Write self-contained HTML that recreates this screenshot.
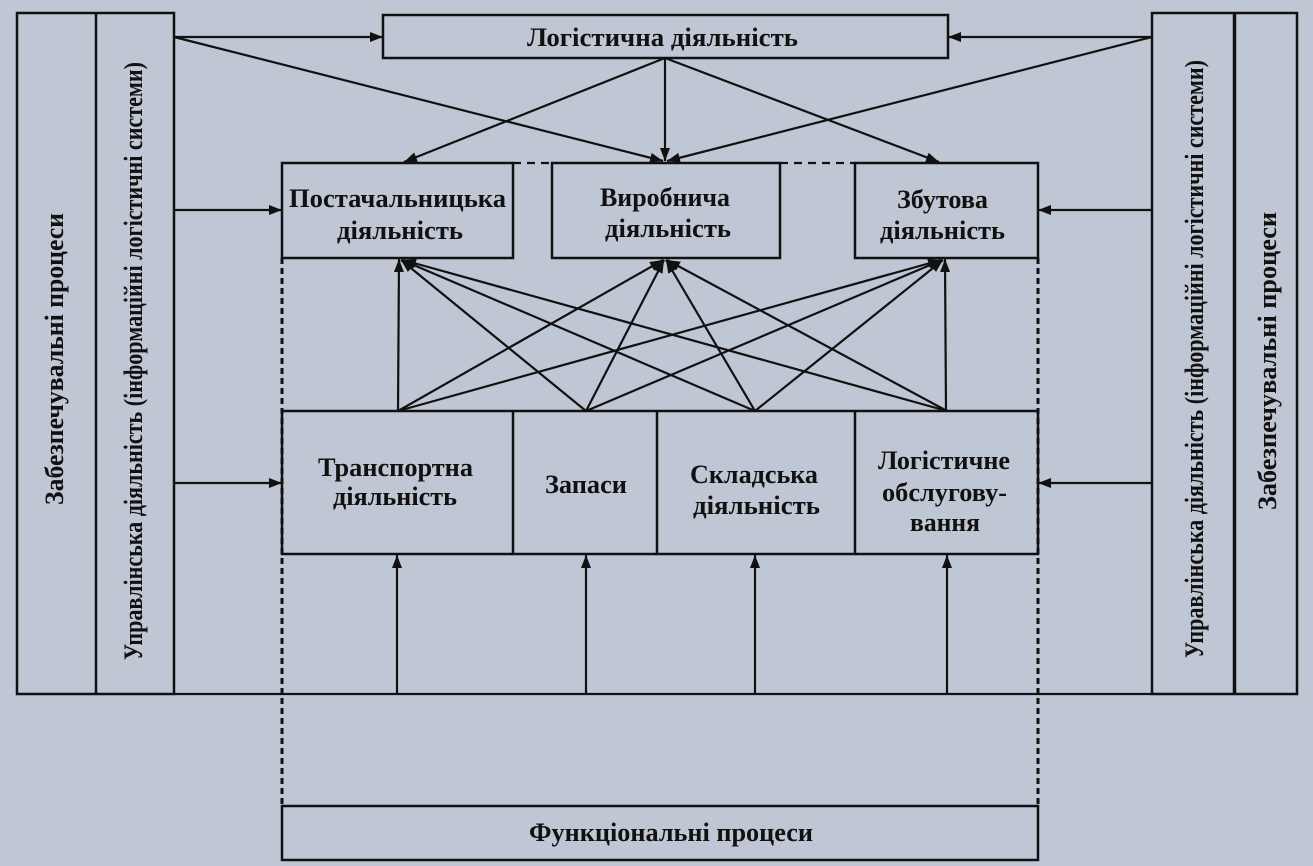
<!DOCTYPE html>
<html>
<head>
<meta charset="utf-8">
<style>
  html,body{margin:0;padding:0;background:#c0c7d4;}
  svg{display:block;}
  text{font-family:"Liberation Serif","Noto Serif CJK SC",serif;font-weight:bold;fill:#111;}
</style>
</head>
<body>
<svg width="1313" height="866" viewBox="0 0 1313 866" xmlns="http://www.w3.org/2000/svg">
  <defs>
    <marker id="ah" markerWidth="15" markerHeight="11" refX="13" refY="5" orient="auto" markerUnits="userSpaceOnUse">
      <path d="M0,0 L13,5 L0,10 z" fill="#111"/>
    </marker>
  </defs>
  <rect x="0" y="0" width="1313" height="866" fill="#c0c7d4"/>

  <g stroke="#111" fill="none" stroke-width="2.5">
    <rect x="17" y="13" width="157" height="681"/>
    <line x1="96" y1="13" x2="96" y2="694"/>
    <rect x="1152" y="13" width="145" height="681"/>
    <line x1="1234.5" y1="13" x2="1234.5" y2="694" stroke-width="3.5"/>
    <rect x="383" y="15" width="565" height="43"/>
    <rect x="282" y="163" width="231" height="95"/>
    <rect x="552" y="163" width="228" height="95"/>
    <rect x="855" y="163" width="183" height="95"/>
    <rect x="282" y="411" width="756" height="143"/>
    <line x1="513" y1="411" x2="513" y2="554"/>
    <line x1="657" y1="411" x2="657" y2="554"/>
    <line x1="855" y1="411" x2="855" y2="554"/>
    <rect x="282" y="806" width="756" height="54"/>
    <line x1="174" y1="694" x2="1152" y2="694" stroke-width="2.3"/>
  </g>

  <g stroke="#111" fill="none">
    <line x1="513" y1="163" x2="552" y2="163" stroke-width="2.2" stroke-dasharray="8,6"/>
    <line x1="780" y1="163" x2="855" y2="163" stroke-width="2.2" stroke-dasharray="8,6"/>
    <line x1="282" y1="258" x2="282" y2="806" stroke-width="3" stroke-dasharray="6,4"/>
    <line x1="1038" y1="258" x2="1038" y2="806" stroke-width="3" stroke-dasharray="6,4"/>
  </g>

  <g stroke="#111" fill="none" stroke-width="2.2" marker-end="url(#ah)">
    <line x1="174" y1="37" x2="383" y2="37"/>
    <line x1="1152" y1="37" x2="948" y2="37"/>
    <line x1="174" y1="37" x2="663" y2="161"/>
    <line x1="1152" y1="37" x2="667" y2="161"/>
    <line x1="665" y1="58" x2="665" y2="161"/>
    <line x1="665" y1="58" x2="404" y2="162"/>
    <line x1="665" y1="58" x2="939" y2="162"/>
    <line x1="174" y1="210" x2="282" y2="210"/>
    <line x1="1152" y1="210" x2="1038" y2="210"/>
    <line x1="174" y1="483" x2="282" y2="483"/>
    <line x1="1152" y1="483" x2="1038" y2="483"/>
    <line x1="398" y1="411" x2="399" y2="259"/>
    <line x1="586" y1="411" x2="401" y2="260"/>
    <line x1="755" y1="411" x2="402" y2="260"/>
    <line x1="947" y1="411" x2="403" y2="260"/>
    <line x1="398" y1="411" x2="663" y2="260"/>
    <line x1="586" y1="411" x2="664" y2="260"/>
    <line x1="755" y1="411" x2="666" y2="260"/>
    <line x1="947" y1="411" x2="667" y2="260"/>
    <line x1="398" y1="411" x2="941" y2="260"/>
    <line x1="586" y1="411" x2="942" y2="260"/>
    <line x1="755" y1="411" x2="943" y2="260"/>
    <line x1="946" y1="411" x2="945" y2="259"/>
    <line x1="397" y1="694" x2="397" y2="555"/>
    <line x1="586" y1="694" x2="586" y2="555"/>
    <line x1="755" y1="694" x2="755" y2="555"/>
    <line x1="947" y1="694" x2="947" y2="555"/>
  </g>

  <g font-size="26">
    <text x="527" y="46" textLength="271" lengthAdjust="spacingAndGlyphs">Логістична діяльність</text>

    <text x="289" y="207" textLength="217" lengthAdjust="spacingAndGlyphs">Постачальницька</text>
    <text x="337" y="239" textLength="126" lengthAdjust="spacingAndGlyphs">діяльність</text>

    <text x="600" y="206" textLength="130" lengthAdjust="spacingAndGlyphs">Виробнича</text>
    <text x="605" y="237" textLength="126" lengthAdjust="spacingAndGlyphs">діяльність</text>

    <text x="897" y="208" textLength="91" lengthAdjust="spacingAndGlyphs">Збутова</text>
    <text x="880" y="239" textLength="125" lengthAdjust="spacingAndGlyphs">діяльність</text>

    <text x="318" y="476" textLength="155" lengthAdjust="spacingAndGlyphs">Транспортна</text>
    <text x="333" y="505" textLength="124" lengthAdjust="spacingAndGlyphs">діяльність</text>

    <text x="545" y="493" textLength="82" lengthAdjust="spacingAndGlyphs">Запаси</text>

    <text x="690" y="483" textLength="128" lengthAdjust="spacingAndGlyphs">Складська</text>
    <text x="693" y="514" textLength="127" lengthAdjust="spacingAndGlyphs">діяльність</text>

    <text x="878" y="469" textLength="132" lengthAdjust="spacingAndGlyphs">Логістичне</text>
    <text x="882" y="501" textLength="125" lengthAdjust="spacingAndGlyphs">обслугову-</text>
    <text x="910" y="531" textLength="70" lengthAdjust="spacingAndGlyphs">вання</text>

    <text x="529" y="841" textLength="284" lengthAdjust="spacingAndGlyphs">Функціональні процеси</text>

    <text transform="translate(63,505) rotate(-90)" x="0" y="0" textLength="292" lengthAdjust="spacingAndGlyphs">Забезпечувальні процеси</text>
    <text transform="translate(142,660) rotate(-90)" x="0" y="0" textLength="598" lengthAdjust="spacingAndGlyphs">Управлінська діяльність (інформаційні логістичні системи)</text>
    <text transform="translate(1203,658) rotate(-90)" x="0" y="0" textLength="598" lengthAdjust="spacingAndGlyphs">Управлінська діяльність (інформаційні логістичні системи)</text>
    <text transform="translate(1276,510) rotate(-90)" x="0" y="0" textLength="298" lengthAdjust="spacingAndGlyphs">Забезпечувальні процеси</text>
  </g>
</svg>
</body>
</html>
